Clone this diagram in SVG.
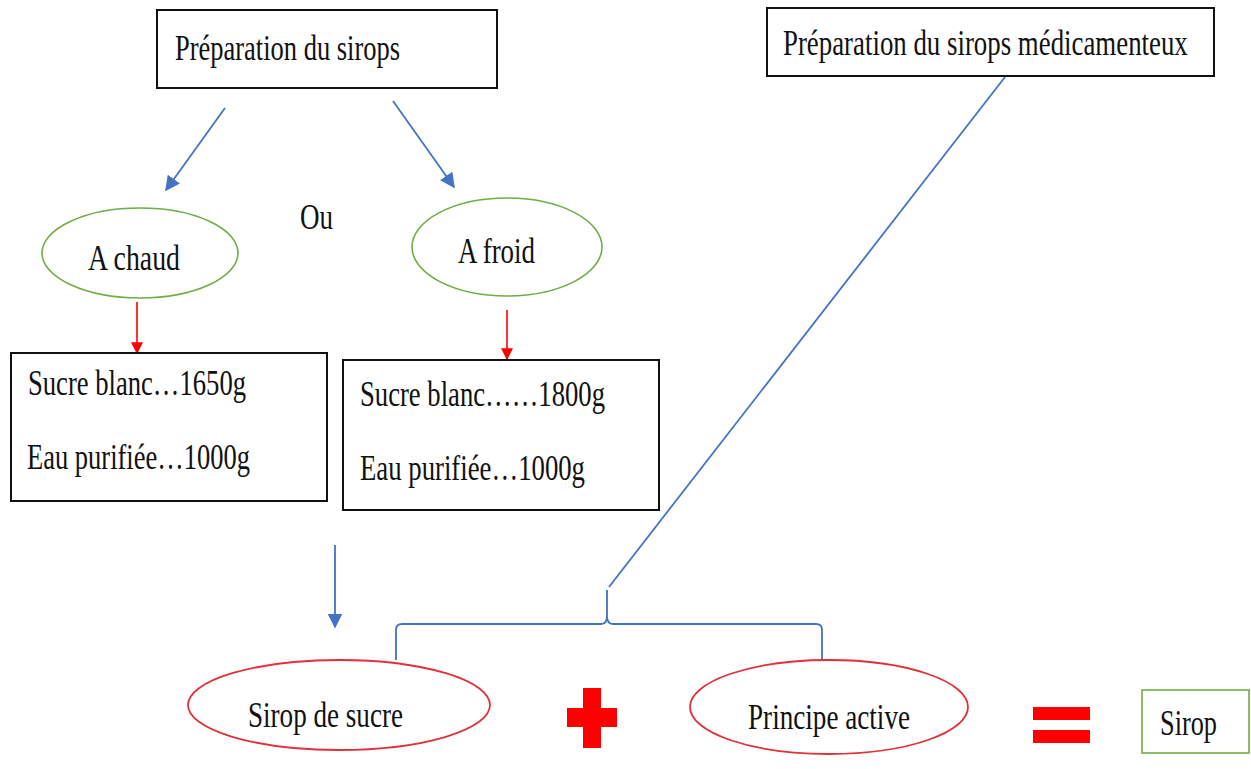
<svg xmlns="http://www.w3.org/2000/svg" width="1251" height="769" viewBox="0 0 1251 769">
  <style>
    text { font-family: "Liberation Serif", "Times New Roman", serif; font-size: 35px; fill: #111; }
    .box { fill: #fff; stroke: #111; stroke-width: 2; }
    .green { fill: #fff; stroke: #70AD47; stroke-width: 1.6; }
    .red { fill: #fff; stroke: #E0303A; stroke-width: 1.8; }
    .blue { fill: none; stroke: #4472C4; stroke-width: 1.8; }
    .redline { fill: none; stroke: #FF0000; stroke-width: 1.6; }
    .sym { fill: #FF0000; }
  </style>
  <defs>
    <marker id="ahBlue" viewBox="0 0 10 10" refX="9" refY="5" markerWidth="15" markerHeight="15" orient="auto" markerUnits="userSpaceOnUse">
      <path d="M0,0 L10,5 L0,10 z" fill="#4472C4"/>
    </marker>
    <marker id="ahRed" viewBox="0 0 10 10" refX="9" refY="5" markerWidth="12" markerHeight="12" orient="auto" markerUnits="userSpaceOnUse">
      <path d="M0,0 L10,5 L0,10 z" fill="#FF0000"/>
    </marker>
  </defs>

  <g id="connectors">
    <line class="blue" x1="225" y1="108" x2="166" y2="190" marker-end="url(#ahBlue)"/>
    <line class="blue" x1="393" y1="101" x2="454" y2="187" marker-end="url(#ahBlue)"/>
    <line class="redline" x1="137" y1="302" x2="137" y2="353" marker-end="url(#ahRed)"/>
    <line class="redline" x1="507" y1="310" x2="507" y2="359" marker-end="url(#ahRed)"/>
    <line class="blue" x1="335" y1="545" x2="335" y2="627" marker-end="url(#ahBlue)"/>
    <line class="blue" x1="1005" y1="77" x2="609" y2="587"/>
    <!-- curly brace over the two ingredients -->
    <path class="blue" d="M396,660 L396,630 Q396,624 402,624 L601,624 Q607,624 607,616 L607,590 M607,616 Q607,624 613,624 L816,624 Q822,624 822,630 L822,660"/>
  </g>

  <g id="prep-sirops">
    <rect class="box" x="157" y="10" width="340" height="78"/>
    <text x="175" y="60" textLength="225" lengthAdjust="spacingAndGlyphs">Préparation du sirops</text>
  </g>

  <g id="prep-medicamenteux">
    <rect class="box" x="767" y="8" width="447" height="68"/>
    <text transform="translate(783,55) scale(0.8,1)" x="0" y="0" textLength="506" lengthAdjust="spacingAndGlyphs">Préparation du sirops médicamenteux</text>
  </g>

  <g id="ou">
    <text x="300" y="229" textLength="33" lengthAdjust="spacingAndGlyphs">Ou</text>
  </g>

  <g id="a-chaud">
    <ellipse class="green" cx="140" cy="253" rx="98" ry="45"/>
    <text x="88" y="270" textLength="92" lengthAdjust="spacingAndGlyphs">A chaud</text>
  </g>

  <g id="a-froid">
    <ellipse class="green" cx="507" cy="247" rx="95" ry="49"/>
    <text x="458" y="263" textLength="77" lengthAdjust="spacingAndGlyphs">A froid</text>
  </g>

  <g id="recette-chaud">
    <rect class="box" x="11" y="353" width="316" height="148"/>
    <text x="28" y="395" textLength="218" lengthAdjust="spacingAndGlyphs">Sucre blanc…1650g</text>
    <text x="27" y="469" textLength="223" lengthAdjust="spacingAndGlyphs">Eau purifiée…1000g</text>
  </g>

  <g id="recette-froid">
    <rect class="box" x="343" y="360" width="316" height="150"/>
    <text x="360" y="406" textLength="245" lengthAdjust="spacingAndGlyphs">Sucre blanc……1800g</text>
    <text x="360" y="480" textLength="225" lengthAdjust="spacingAndGlyphs">Eau purifiée…1000g</text>
  </g>

  <g id="sirop-de-sucre">
    <ellipse class="red" cx="339" cy="705" rx="151" ry="45"/>
    <text x="248" y="727" textLength="155" lengthAdjust="spacingAndGlyphs">Sirop de sucre</text>
  </g>

  <g id="plus">
    <rect class="sym" x="583" y="688" width="18" height="60"/>
    <rect class="sym" x="567" y="708" width="50" height="19"/>
  </g>

  <g id="principe-active">
    <ellipse class="red" cx="829" cy="707" rx="139" ry="47"/>
    <text x="748" y="729" textLength="162" lengthAdjust="spacingAndGlyphs">Principe active</text>
  </g>

  <g id="egal">
    <rect class="sym" x="1033" y="707" width="57" height="13"/>
    <rect class="sym" x="1033" y="730" width="57" height="13"/>
  </g>

  <g id="sirop">
    <rect class="green" x="1142" y="690" width="107" height="63"/>
    <text x="1160" y="735" textLength="57" lengthAdjust="spacingAndGlyphs">Sirop</text>
  </g>
</svg>
